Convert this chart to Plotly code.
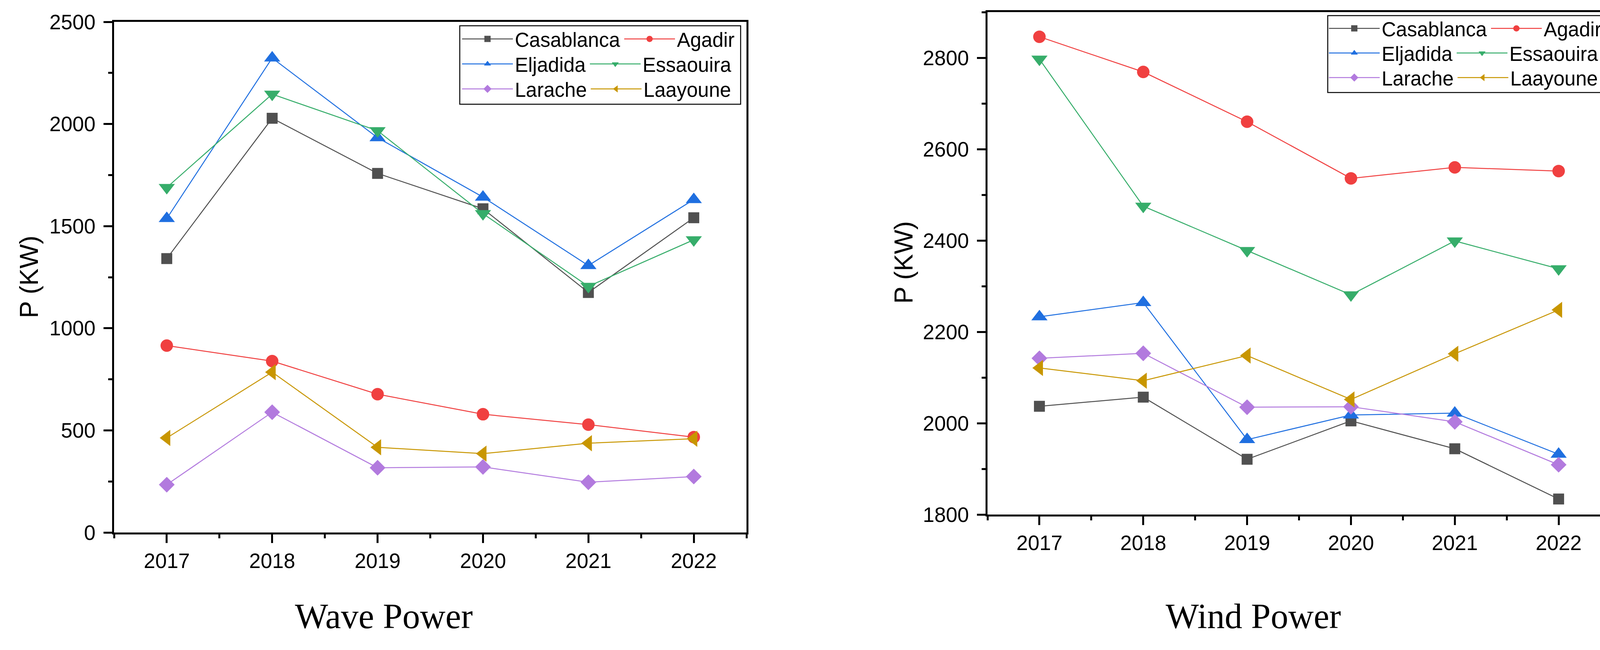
import plotly.graph_objects as go

# ---------------- data ----------------
years = [2017, 2018, 2019, 2020, 2021, 2022]
cities = ["Casablanca", "Agadir", "Eljadida", "Essaouira", "Larache", "Laayoune"]

wave_casablanca = [1341, 2028, 1758, 1585, 1175, 1541]
wave_agadir = [915, 839, 677, 579, 528, 467]
wave_eljadida = [1537, 2323, 1933, 1642, 1307, 1630]
wave_essaouira = [1689, 2146, 1967, 1561, 1205, 1433]
wave_larache = [234, 589, 317, 321, 246, 274]
wave_laayoune = [463, 785, 417, 386, 437, 459]

wind_casablanca = [2037, 2057, 1921, 2005, 1944, 1834]
wind_agadir = [2846, 2769, 2660, 2536, 2560, 2552]
wind_eljadida = [2233, 2264, 1964, 2018, 2022, 1932]
wind_essaouira = [2797, 2475, 2378, 2281, 2399, 2338]
wind_larache = [2142, 2153, 2035, 2036, 2003, 1909]
wind_laayoune = [2121, 2093, 2148, 2052, 2152, 2248]

wave_values = [wave_casablanca, wave_agadir, wave_eljadida,
               wave_essaouira, wave_larache, wave_laayoune]
wind_values = [wind_casablanca, wind_agadir, wind_eljadida,
               wind_essaouira, wind_larache, wind_laayoune]

panel_titles = ["Wave Power", "Wind Power"]
y_title = "P (KW)"

# ---------------- styles ----------------
colors = ["#505050", "#f04040", "#1f6fe0", "#36ad6a", "#b27ade", "#c89600"]
symbols = ["square", "circle", "triangle-up", "triangle-down", "diamond", "triangle-left"]
sizes = [28, 32, 36, 36, 31, 36]

W, H = 4152, 1665
SANS = "Liberation Sans, Arial, sans-serif"
SERIF = "Liberation Serif, Times New Roman, serif"


def px_x(p):
    return p / W


def px_y(p):
    return 1 - p / H


fig = go.Figure()

row_of = [0, 0, 1, 1, 2, 2]
left_legends = ["legend", "legend2", "legend3"]
right_legends = ["legend4", "legend5", "legend6"]

for i, name in enumerate(cities):
    fig.add_trace(go.Scatter(
        x=years, y=wave_values[i], name=name, mode="lines+markers",
        line=dict(color=colors[i], width=2.5),
        marker=dict(symbol=symbols[i], size=sizes[i], color=colors[i]),
        xaxis="x", yaxis="y", legend=left_legends[row_of[i]],
    ))
for i, name in enumerate(cities):
    fig.add_trace(go.Scatter(
        x=years, y=wind_values[i], name=name, mode="lines+markers",
        line=dict(color=colors[i], width=2.5),
        marker=dict(symbol=symbols[i], size=sizes[i], color=colors[i]),
        xaxis="x2", yaxis="y2", legend=right_legends[row_of[i]],
    ))

tickfont = dict(family=SANS, size=53, color="black")


def xaxis_cfg(domain, anchor):
    return dict(
        domain=domain, range=[2016.5, 2022.5], tickmode="linear", tick0=2017, dtick=1,
        showline=True, linewidth=5, linecolor="black", mirror=True,
        ticks="outside", ticklen=22, tickwidth=5, tickcolor="black",
        minor=dict(ticks="outside", ticklen=10, tickwidth=5, tickcolor="black", dtick=0.5, tick0=2016.5),
        showgrid=False, zeroline=False, tickfont=tickfont, ticklabelstandoff=0,
        automargin=False, anchor=anchor,
    )


def yaxis_cfg(domain, rng, dtick, mdtick, anchor):
    return dict(
        domain=domain, range=rng, tickmode="linear", tick0=rng[0], dtick=dtick,
        showline=True, linewidth=5, linecolor="black", mirror=True,
        ticks="outside", ticklen=22, tickwidth=5, tickcolor="black",
        minor=dict(ticks="outside", ticklen=10, tickwidth=5, tickcolor="black", dtick=mdtick, tick0=rng[0]),
        showgrid=False, zeroline=False, tickfont=tickfont, ticklabelstandoff=10,
        automargin=False, anchor=anchor,
    )


left_xd = [px_x(292), px_x(1911)]
left_yd = [px_y(1364), px_y(56)]
right_xd = [px_x(2528), px_x(4123)]
right_yd = [px_y(1318), px_y(31)]

legend_common = dict(
    orientation="h", xanchor="left", yanchor="middle",
    bgcolor="rgba(0,0,0,0)", borderwidth=0,
    font=dict(family=SANS, size=51, color="black"),
    itemwidth=130, traceorder="normal",
)

left_rows = [100, 164, 228]
right_rows = [73, 136, 199]

layout_legends = {}
for k, yy in enumerate(left_rows):
    layout_legends[left_legends[k]] = dict(legend_common, x=px_x(1178), y=px_y(yy))
for k, yy in enumerate(right_rows):
    layout_legends[right_legends[k]] = dict(legend_common, x=px_x(3397), y=px_y(yy))

fig.update_layout(
    width=W, height=H, autosize=False,
    margin=dict(l=0, r=0, t=0, b=0, pad=0, autoexpand=False),
    paper_bgcolor="white", plot_bgcolor="white",
    xaxis=xaxis_cfg(left_xd, "y"),
    yaxis=yaxis_cfg(left_yd, [0, 2500], 500, 250, "x"),
    xaxis2=xaxis_cfg(right_xd, "y2"),
    yaxis2=yaxis_cfg(right_yd, [1800, 2900], 200, 100, "x2"),
    showlegend=True,
    **layout_legends,
    shapes=[
        dict(type="rect", xref="paper", yref="paper",
             x0=px_x(1177), x1=px_x(1896), y0=px_y(267), y1=px_y(66),
             line=dict(color="black", width=2.5), fillcolor="rgba(0,0,0,0)"),
        dict(type="rect", xref="paper", yref="paper",
             x0=px_x(3399), x1=px_x(4110), y0=px_y(237), y1=px_y(40),
             line=dict(color="black", width=2.5), fillcolor="rgba(0,0,0,0)"),
    ],
    annotations=[
        dict(text=panel_titles[0], xref="paper", yref="paper", x=px_x(982), y=px_y(1578),
             xanchor="center", yanchor="middle", showarrow=False,
             font=dict(family=SERIF, size=90, color="black")),
        dict(text=panel_titles[1], xref="paper", yref="paper", x=px_x(3208), y=px_y(1578),
             xanchor="center", yanchor="middle", showarrow=False,
             font=dict(family=SERIF, size=90, color="black")),
        dict(text=y_title, xref="paper", yref="paper", x=px_x(74), y=px_y(710),
             xanchor="center", yanchor="middle", showarrow=False, textangle=-90,
             font=dict(family=SANS, size=66, color="black")),
        dict(text=y_title, xref="paper", yref="paper", x=px_x(2313), y=px_y(673),
             xanchor="center", yanchor="middle", showarrow=False, textangle=-90,
             font=dict(family=SANS, size=66, color="black")),
    ],
)

fig.write_html(
    "out.html",
    config={"displayModeBar": False},
    post_script=(
        "document.body.style.margin='0px';"
        "document.body.style.overflow='hidden';"
        "document.documentElement.style.overflow='hidden';"
    ),
)
